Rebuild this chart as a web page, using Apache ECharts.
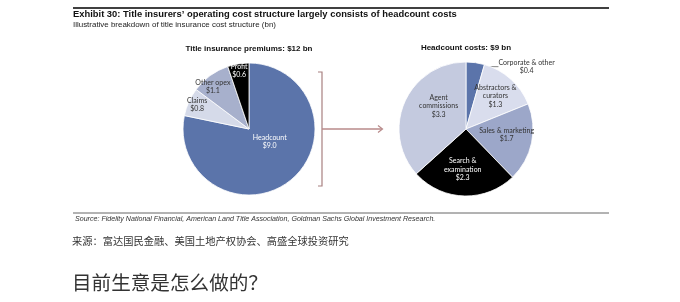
<!DOCTYPE html>
<html><head><meta charset="utf-8">
<script src="https://cdn.jsdelivr.net/npm/echarts@6/dist/echarts.min.js"></script>
<style>html,body{margin:0;padding:0;background:#fff}#c{width:680px;height:302px}</style>
</head><body><div id="c"></div>
<script>
// ---- data ----
var premiumCats = ['Headcount', 'Claims', 'Other opex', 'Profit'];
var premiumVals = [9.0, 0.8, 1.1, 0.6];
var headcountCats = ['Corporate & other', 'Abstractors &\ncurators', 'Sales & marketing', 'Search &\nexamination', 'Agent\ncommissions'];
var headcountVals = [0.4, 1.3, 1.7, 2.3, 3.3];
var leftTitle = 'Title insurance premiums: $12 bn';
var rightTitle = 'Headcount costs: $9 bn';

// ---- styles ----
var leftColors = ['#5b74aa', '#d5dae9', '#a7b0cc', '#000000'];
var leftLabelColors = ['#ffffff', '#333333', '#333333', '#ffffff'];
var leftOffsets = [[-2, -15], [-19, -9], [-15, -13], [-4, -23]];
var rightColors = ['#5b74aa', '#d9dded', '#9ca7c9', '#000000', '#c4cadf'];
var rightLabelColors = ['#333333', '#333333', '#333333', '#ffffff', '#333333'];
var rightOffsets = [[6, 2], [5, -6], [5, -2], [-2, 4], [6, -8]];
var labelFont = 'Lato, "Liberation Sans", sans-serif';
var sansFont = '"Liberation Sans", Arial, sans-serif';

function buildData(cats, vals, colors, lcolors) {
  return cats.map(function (c, i) {
    return { name: c, value: vals[i], itemStyle: { color: colors[i] }, label: { color: lcolors[i] } };
  });
}

var chart = echarts.init(document.getElementById('c'), null, { renderer: 'canvas' });
var option = {
  animation: false,
  backgroundColor: '#ffffff',
  title: [
    { text: 'Exhibit 30: Title insurers\u2019 operating cost structure largely consists of headcount costs', left: 73, top: 10, padding: 0,
      textStyle: { fontSize: 9.4, fontWeight: 'bold', color: '#111', fontFamily: sansFont } },
    { text: 'Illustrative breakdown of title insurance cost structure (bn)', left: 73, top: 21, padding: 0,
      textStyle: { fontSize: 7.95, fontWeight: 'normal', color: '#222', fontFamily: sansFont } },
    { text: leftTitle, left: 249, top: 45, padding: 0, textAlign: 'center',
      textStyle: { fontSize: 8, fontWeight: 'bold', color: '#111', fontFamily: sansFont } },
    { text: rightTitle, left: 466, top: 44, padding: 0, textAlign: 'center',
      textStyle: { fontSize: 8, fontWeight: 'bold', color: '#111', fontFamily: sansFont } },
    { text: 'Source: Fidelity National Financial, American Land Title Association, Goldman Sachs Global Investment Research.', left: 75, top: 215.5, padding: 0,
      textStyle: { fontSize: 7.1, fontWeight: 'normal', fontStyle: 'italic', color: '#333', fontFamily: '"Liberation Sans Narrow", "Liberation Sans", Arial, sans-serif' } },
    { text: '来源：富达国民金融、美国土地产权协会、高盛全球投资研究', left: 72, top: 236, padding: 0,
      textStyle: { fontSize: 10.25, fontWeight: 'normal', color: '#333', fontFamily: '"Noto Sans CJK SC", sans-serif' } },
    { text: '目前生意是怎么做的？', left: 72, top: 273, padding: 0,
      textStyle: { fontSize: 19.6, fontWeight: 'normal', color: '#333', fontFamily: '"Noto Sans CJK SC", sans-serif' } }
  ],
  graphic: [
    { type: 'line', shape: { x1: 73, y1: 8, x2: 609, y2: 8 }, style: { stroke: '#000', lineWidth: 1.5 } },
    { type: 'line', shape: { x1: 73, y1: 213, x2: 609, y2: 213 }, style: { stroke: '#666', lineWidth: 1 } },
    { type: 'polyline', shape: { points: [[318, 72], [322, 72], [322, 186], [318, 186]] }, style: { stroke: '#a88080', lineWidth: 1.2, fill: null } },
    { type: 'line', shape: { x1: 322, y1: 129, x2: 382, y2: 129 }, style: { stroke: '#b88a8a', lineWidth: 1.5 } },
    { type: 'polyline', shape: { points: [[378, 125.5], [382.5, 129], [378, 132.5]] }, style: { stroke: '#b88a8a', lineWidth: 1.2, fill: null } }
  ],
  series: [
    {
      type: 'pie', center: [249, 129], radius: 66, startAngle: 90, clockwise: true,
      data: buildData(premiumCats, premiumVals, leftColors, leftLabelColors),
      itemStyle: { borderColor: '#ffffff', borderWidth: 0.8 },
      label: { show: true, position: 'inside', fontSize: 7, lineHeight: 8, fontFamily: labelFont,
        formatter: function (p) { return p.name + '\n$' + p.value.toFixed(1); } },
      labelLayout: function (p) { var o = leftOffsets[p.dataIndex]; return { dx: o[0], dy: o[1] }; }
    },
    {
      type: 'pie', center: [466, 129], radius: 67, startAngle: 90, clockwise: true,
      data: buildData(headcountCats, headcountVals, rightColors, rightLabelColors).map(function (d, i) {
        if (i === 0) {
          d.label = { position: 'outside', color: '#333', align: 'center' };
          d.labelLine = { show: true, length: 2, length2: 22, lineStyle: { color: '#666', width: 0.8 } };
        }
        return d;
      }),
      itemStyle: { borderColor: '#ffffff', borderWidth: 0.8 },
      label: { show: true, position: 'inside', fontSize: 7, lineHeight: 8.5, fontFamily: labelFont,
        formatter: function (p) { return p.name + '\n$' + p.value.toFixed(1); } },
      labelLayout: function (p) {
        if (p.dataIndex === 0) {
          return { x: p.labelLinePoints[2][0] + 29, y: p.labelLinePoints[2][1] + 6, align: 'center', verticalAlign: 'middle' };
        }
        var o = rightOffsets[p.dataIndex]; return { dx: o[0], dy: o[1] };
      }
    }
  ]
};
chart.setOption(option);
</script>
</body></html>
